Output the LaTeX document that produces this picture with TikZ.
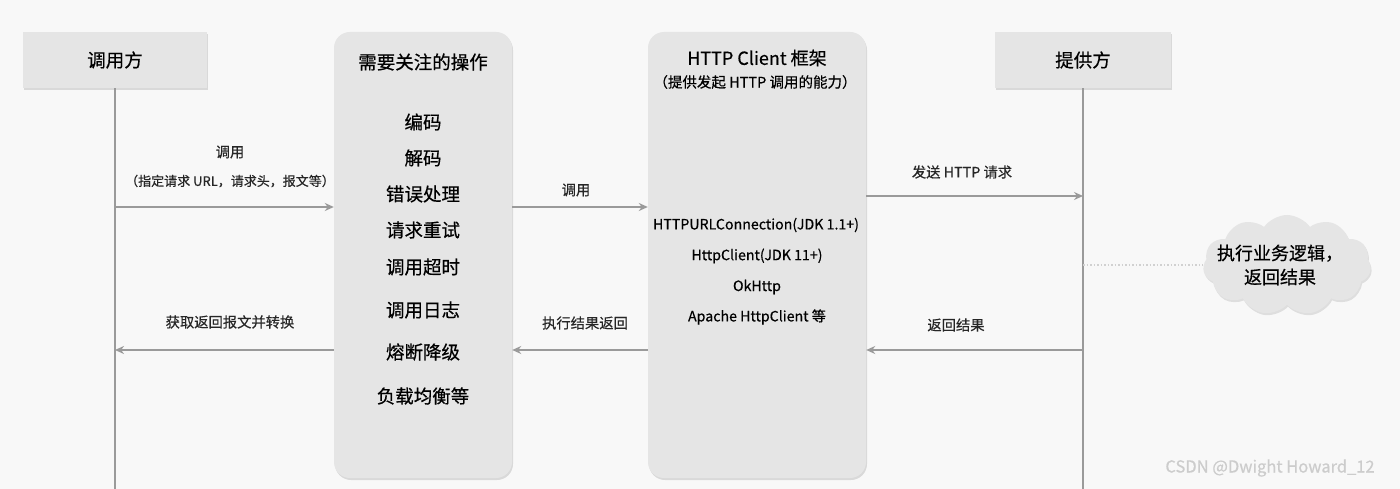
\documentclass[tikz,border=0pt]{standalone}
\usepackage{fontspec}
\setmainfont{Noto Sans CJK SC}[RawFeature={embolden=0.5}]
\usetikzlibrary{shapes.symbols,arrows.meta,shadows}
\definecolor{bg}{HTML}{F8F8F8}
\definecolor{boxfill}{HTML}{E5E5E5}
\definecolor{linegray}{HTML}{9A9A9A}
\begin{document}
\begin{tikzpicture}[x=1pt,y=-1pt,
  box/.style={draw=none,fill=boxfill,drop shadow={shadow xshift=1pt,shadow yshift=-2pt,fill=black,opacity=0.12}},
  actor/.style={box,rectangle,minimum width=184pt,minimum height=56pt,font=\fontsize{18.5}{21}\selectfont},
  panel/.style={box,rectangle,rounded corners=16pt,minimum height=446pt},
  lbl/.style={font=\fontsize{14.3}{16}\selectfont,text=black!85,inner sep=0pt},
  small/.style={font=\fontsize{13}{15}\selectfont,text=black!85,inner sep=0pt},
  item/.style={font=\fontsize{18.5}{21}\selectfont,inner sep=0pt},
  lib/.style={font=\fontsize{14.2}{16}\selectfont,inner sep=0pt},
  life/.style={draw=linegray,line width=1.5pt},
  arr/.style={draw=linegray,line width=1.5pt,-{Stealth[length=9pt,width=8pt]}},
]
\fill[bg] (0,0) rectangle (1400,489);
\useasboundingbox (0,0) rectangle (1400,489);
\coordinate (bottom) at (0,489);
\coordinate (ycall) at (0,207);
\coordinate (ysend) at (0,196);
\coordinate (yret) at (0,350);

% panels and actors
\node[actor] (caller) at (115,60) {调用方};
\node[actor,minimum width=176pt] (provider) at (1083,60) {提供方};
\node[panel,minimum width=178pt] (ops) at (423,255) {};
\node[panel,minimum width=218pt] (http) at (757,255) {};

% lifelines
\draw[life] (caller.south) -- (caller.south |- bottom);
\draw[life] (provider.south) -- (provider.south |- bottom);

% ops panel text
\node[item] (opsT) at (423,62) {需要关注的操作};
\node[item] (o1) at (423,122) {编码};
\node[item] (o2) at (423,158) {解码};
\node[item] (o3) at (423,194) {错误处理};
\node[item] (o4) at (423,230) {请求重试};
\node[item] (o5) at (423,267) {调用超时};
\node[item] (o6) at (423,310) {调用日志};
\node[item] (o7) at (423,352) {熔断降级};
\node[item] (o8) at (423,396) {负载均衡等};

% http panel text
\node[font=\fontsize{18}{21}\selectfont,inner sep=0pt] (hT) at (757,58) {HTTP Client 框架};
\node[font=\fontsize{14.5}{17}\selectfont,inner sep=0pt] (hS) at (755,82) {（提供发起 HTTP 调用的能力）};
\node[lib] (h1) at (756,225) {HTTPURLConnection(JDK 1.1+)};
\node[lib] (h2) at (757,256) {HttpClient(JDK 11+)};
\node[lib] (h3) at (757,287) {OkHttp};
\node[lib] (h4) at (757,317) {Apache HttpClient 等};

% cloud
\node[cloud,cloud puffs=11,cloud puff arc=110,fill=boxfill,draw=none,minimum width=168pt,minimum height=100pt,aspect=1.7,
  drop shadow={shadow xshift=1pt,shadow yshift=-2pt,fill=black,opacity=0.10}] (cloud) at (1287,265) {};
\node[font=\fontsize{18}{24}\selectfont,align=center,inner sep=0pt] (cloudT) at (1280,265) {执行业务逻辑，\\返回结果};
\draw[draw=black!18,line width=1.5pt,dotted] (provider.south |- cloud.west) -- (cloud.west);

% call arrows
\draw[arr] (caller.south |- ycall) -- (ops.west |- ycall);
\node[lbl] (l1) at (230,152) {调用};
\node[small] (l1b) at (230,181) {（指定请求 URL，请求头，报文等）};
\draw[arr] (ops.east |- ycall) -- (http.west |- ycall);
\node[lbl] (l2) at (576,190) {调用};
\draw[arr] (http.east |- ysend) -- (provider.south |- ysend);
\node[lbl] (l3) at (962,172) {发送 HTTP 请求};

% return arrows
\draw[arr] (provider.south |- yret) -- (http.east |- yret);
\node[lbl] (l4) at (956,325) {返回结果};
\draw[arr] (http.west |- yret) -- (ops.east |- yret);
\node[lbl] (l5) at (585,323) {执行结果返回};
\draw[arr] (ops.west |- yret) -- (caller.south |- yret);
\node[lbl] (l6) at (230,322) {获取返回报文并转换};

% watermark
\node[font=\fontsize{16.5}{19}\selectfont,text=black!20,inner sep=0pt] (wm) at (1270,468) {CSDN @Dwight Howard\_12};
\end{tikzpicture}
\end{document}
